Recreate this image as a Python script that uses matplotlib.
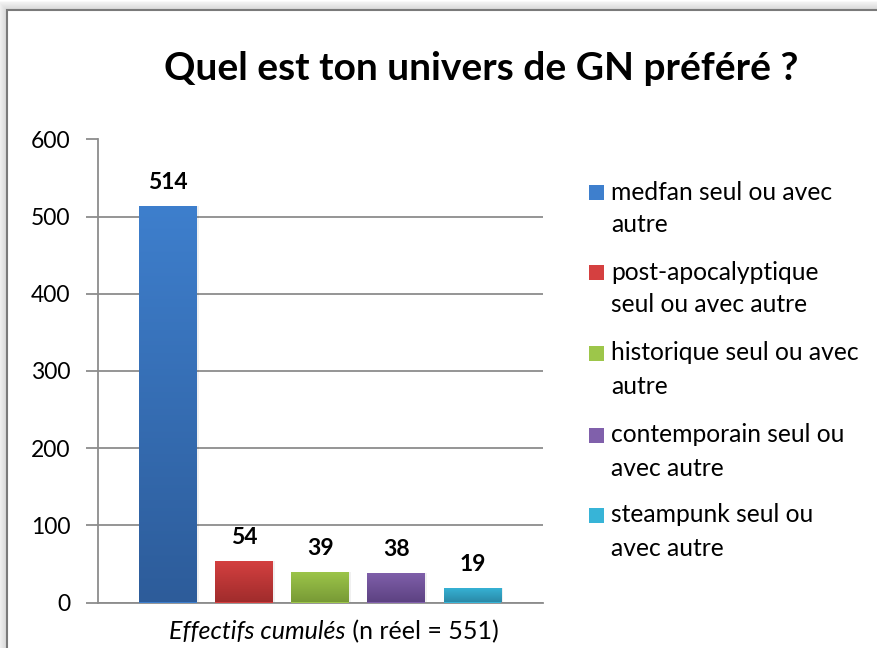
import matplotlib
matplotlib.use("Agg")
import matplotlib.pyplot as plt
import numpy as np
from matplotlib.patches import Rectangle
from matplotlib.colors import LinearSegmentedColormap

# ---- data ----
categories = ["medfan seul ou avec\nautre",
              "post-apocalyptique\nseul ou avec autre",
              "historique seul ou avec\nautre",
              "contemporain seul ou\navec autre",
              "steampunk seul ou\navec autre"]
values = [514, 54, 39, 38, 19]
top_colors = ["#3E7FCD", "#D54040", "#9DC64A", "#8060AB", "#37B4D7"]
bottom_colors = ["#2D5C9A", "#A02C2C", "#789A36", "#5D4282", "#2A8AA8"]
yticks = [0, 100, 200, 300, 400, 500, 600]
title = "Quel est ton univers de GN préféré ?"
xlabel_italic = "Effectifs cumulés"
xlabel_rest = " (n réel = 551)"

W, H = 877, 648
plt.rcParams['font.family'] = ['Lato', 'DejaVu Sans']
fig = plt.figure(figsize=(W / 100, H / 100), dpi=100)

def fx(px):
    return px / W

def fy(py):
    return 1 - py / H

# frame with soft shadow
for i in range(8):
    a = 0.05 + 0.02 * i
    fig.patches.append(Rectangle((fx(7 - 8 + i), fy(H + 20)), fx(W + 30), fy(10 - 8 + i) - fy(H + 20),
                                 transform=fig.transFigure, facecolor='none',
                                 edgecolor=(0.5, 0.5, 0.5, a), lw=1.2, zorder=-5))
fig.patches.append(Rectangle((fx(7), fy(H + 20)), fx(W + 30), fy(10) - fy(H + 20),
                             transform=fig.transFigure, facecolor='white',
                             edgecolor='#7a7a7a', lw=1.5, zorder=-4))

left, right, top, bottom = 98, 543, 139.5, 602.5
ax = fig.add_axes([fx(left), fy(bottom), fx(right - left), fy(top) - fy(bottom)])
ax.set_facecolor('none')
ax.set_zorder(2)

x = np.arange(len(values))
bars = ax.bar(x, values, width=0.755, color=top_colors, zorder=3)

for b, ct, cb in zip(bars, top_colors, bottom_colors):
    x0, y0 = b.get_x(), b.get_y()
    w, h = b.get_width(), b.get_height()
    cmap = LinearSegmentedColormap.from_list('g', [cb, ct])
    grad = np.linspace(0, 1, 256).reshape(-1, 1)
    im = ax.imshow(grad, cmap=cmap, origin='lower', aspect='auto',
                   extent=(x0, x0 + w, y0, y0 + h), zorder=4)
    im.set_clip_path(b)
    ax.add_patch(Rectangle((x0 + w, y0), 0.03, h, facecolor=(0, 0, 0, 0.06),
                           edgecolor='none', zorder=2))

ax.set_ylim(0, 600)
ax.set_xlim(-0.92, 4.93)

for xi, v in zip(x, values):
    ax.annotate(str(v), (xi, v), xytext=(0, 13), textcoords='offset pixels',
                ha='center', va='bottom', fontsize=16.5, fontweight='bold', color='black')

ax.set_yticks(yticks)
ax.set_yticklabels([str(t) for t in yticks], fontsize=16.5)
ax.set_xticks([])
ax.yaxis.grid(True, color='#8c8c8c', lw=1.3, zorder=0)
ax.tick_params(axis='y', length=9, width=1.3, color='#8c8c8c', pad=11)
for s in ['top', 'right']:
    ax.spines[s].set_visible(False)
for s in ['left', 'bottom']:
    ax.spines[s].set_color('#8c8c8c')
    ax.spines[s].set_linewidth(1.3)

# title
fig.text(fx(481), fy(68), title, ha='center', va='center', fontsize=28, fontweight='bold')

# x label composed of italic + normal parts
fig.canvas.draw()
r = fig.canvas.get_renderer()
t1 = fig.text(0, fy(632), xlabel_italic, fontsize=18, style='italic', ha='left', va='center')
t2 = fig.text(0, fy(632), xlabel_rest, fontsize=18, ha='left', va='center')
w1 = t1.get_window_extent(r).width
w2 = t2.get_window_extent(r).width
start = 334 - (w1 + w2) / 2
t1.set_x(fx(start))
t2.set_x(fx(start + w1))

# legend (manual, square aligned with first line)
leg_first_line = [192, 272, 353, 435, 515]
for yy, c, lab in zip(leg_first_line, top_colors, categories):
    fig.patches.append(Rectangle((fx(589), fy(yy + 7.5)), fx(15), fy(yy - 7.5) - fy(yy + 7.5),
                                 transform=fig.transFigure, facecolor=c, edgecolor='none', zorder=3))
    for k, line in enumerate(lab.split('\n')):
        fig.text(fx(611), fy(yy + 33 * k), line, ha='left', va='center', fontsize=17.7)

fig.savefig('out.png', dpi=100)
